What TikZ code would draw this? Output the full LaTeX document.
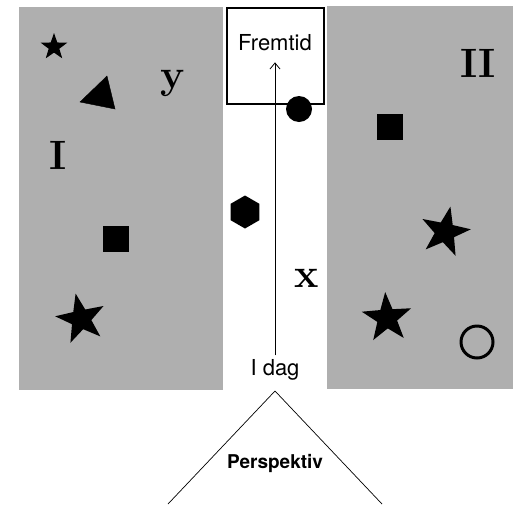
\documentclass[tikz,border=0pt]{standalone}
\usepackage{fontspec}
\newfontfamily\heros{TeX Gyre Heros}
\usetikzlibrary{shapes.geometric,arrows.meta}
\definecolor{panel}{RGB}{175,175,175}
\tikzset{
  panelbox/.style={fill=panel,draw=none},
  bigletter/.style={font=\fontsize{41}{44}\selectfont\bfseries,inner sep=0},
  sanstext/.style={font=\heros\fontsize{22}{25}\selectfont,inner sep=1pt},
  starshape/.style={star,star points=5,star point ratio=2.5,fill=black,draw=none,inner sep=0},
  sq/.style={rectangle,fill=black,draw=none,minimum size=26pt,inner sep=0},
}
\begin{document}
\begin{tikzpicture}[x=1pt,y=-1pt]
\useasboundingbox (0,0) rectangle (513,504);
% panels
\fill[panel] (19,7) rectangle (223,390);
\fill[panel] (327,6) rectangle (513,389);
% box
\node[draw=black,line width=2pt,minimum width=97pt,minimum height=96pt,inner sep=0] (box) at (275,55.5) {};
\node[sanstext] (fremtid) at (275,43) {Fremtid};
\node[sanstext] (idag) at (275,370) {I dag};
\draw[-{Straight Barb[length=6pt,width=10pt]},line width=0.8pt,shorten >=10pt,shorten <=3pt] (idag.north) -- (fremtid.south);
% left panel shapes
\node[starshape,minimum size=28pt] (s1) at (54,47) {};
\filldraw[black] (80,102) -- (107,76) -- (115,109) -- cycle;
\node[bigletter] (y) at (173,83) {y};
\node[bigletter] (I) at (58,155) {I};
\node[sq] (sqL) at (116,239) {};
\node[starshape,minimum size=52pt,rotate=12] (s2) at (81,319) {};
% middle
\node[circle,fill=black,minimum size=26pt,inner sep=0] (dot) at (299,109) {};
\node[regular polygon,regular polygon sides=6,shape border rotate=30,fill=black,minimum size=33pt,inner sep=0] (hex) at (245,212) {};
\node[bigletter] (x) at (307,278) {x};
% right panel
\node[bigletter] (II) at (478,63) {II};
\node[sq] (sqR) at (390,127) {};
\node[starshape,minimum size=52pt,rotate=-12] (s3) at (445,232) {};
\node[starshape,minimum size=52pt,rotate=4] (s4) at (387,318) {};
\node[circle,draw=black,line width=3pt,minimum size=32pt,inner sep=0] (ring) at (477,342) {};
% perspective
\coordinate (apex) at (275,391);
\coordinate (bl) at (168,504);
\coordinate (br) at (382,504);
\draw[line width=0.7pt] (bl) -- (apex) -- (br);
\node[font=\heros\bfseries\fontsize{19}{22}\selectfont] (persp) at (275,463) {Perspektiv};
\end{tikzpicture}
\end{document}
